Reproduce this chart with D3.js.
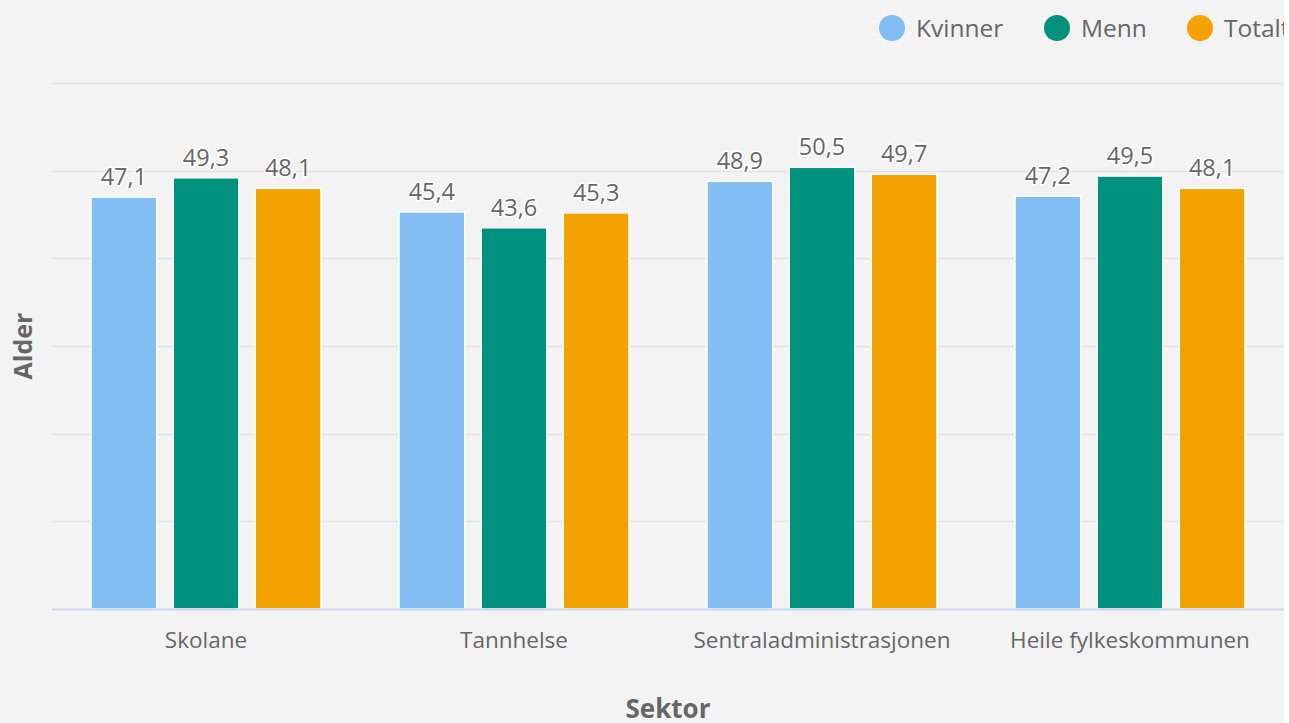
<!DOCTYPE html>
<html>
<head>
<meta charset="utf-8">
<script src="https://cdn.jsdelivr.net/npm/d3@7"></script>
<style>
  html, body { margin: 0; padding: 0; background: #ffffff; }
  #chart { width: 1284px; height: 723px; background: #f3f3f3; overflow: hidden; }
  text { font-family: "Open Sans", Lato, sans-serif; }
</style>
</head>
<body>
<div id="chart"></div>
<script>
// data
var categories = ["Skolane", "Tannhelse", "Sentraladministrasjonen", "Heile fylkeskommunen"];
var seriesNames = ["Kvinner", "Menn", "Totalt"];
var kvinner = [47.1, 45.4, 48.9, 47.2];
var menn = [49.3, 43.6, 50.5, 49.5];
var totalt = [48.1, 45.3, 49.7, 48.1];
var yTicks = [0, 10, 20, 30, 40, 50, 60];
var colors = ["#82bef3", "#00927f", "#f4a201"];

var seriesValues = [kvinner, menn, totalt];

var width = 1284, height = 723;
var margin = {left: 52, right: 0, top: 83, bottom: 114};
var plotW = width - margin.left - margin.right,
    plotH = height - margin.top - margin.bottom;

var svg = d3.select("#chart").append("svg")
  .attr("width", width)
  .attr("height", height);

var g = svg.append("g")
  .attr("transform", "translate(" + margin.left + "," + margin.top + ")");

var x0 = d3.scaleBand().domain(categories).range([0, plotW]).padding(0);
var x1 = d3.scaleBand().domain(seriesNames)
  .range([x0.bandwidth() * 0.1, x0.bandwidth() * 0.9])
  .paddingInner(0.2).paddingOuter(0.1);
var y = d3.scaleLinear().domain([0, 60]).range([plotH, 0]);

// grid
g.selectAll(".grid").data(yTicks.filter(function(t) { return t > 0; }))
  .enter().append("line")
  .attr("x1", 0).attr("x2", plotW)
  .attr("y1", function(t) { return Math.round(y(t)) + 0.5; })
  .attr("y2", function(t) { return Math.round(y(t)) + 0.5; })
  .attr("stroke", "#e3e3e3").attr("stroke-width", 1.5);

// bars
var groups = g.selectAll(".grp").data(categories).enter().append("g")
  .attr("transform", function(c) { return "translate(" + x0(c) + ",0)"; });

function rows(c, i) {
  return seriesNames.map(function(s, j) { return {s: s, v: seriesValues[j][i], j: j}; });
}

groups.selectAll("rect").data(rows)
  .enter().append("rect")
  .attr("x", function(d) { return x1(d.s); })
  .attr("width", x1.bandwidth())
  .attr("y", function(d) { return y(d.v) + 1; })
  .attr("height", function(d) { return plotH - y(d.v) - 1; })
  .attr("fill", function(d) { return colors[d.j]; })
  .attr("stroke", "#ffffff").attr("stroke-width", 1.5);

groups.selectAll(".lbl").data(rows)
  .enter().append("text")
  .attr("x", function(d) { return x1(d.s) + x1.bandwidth() / 2; })
  .attr("y", function(d) { return y(d.v) - 11; })
  .attr("text-anchor", "middle")
  .style("font-size", "23.5px")
  .style("fill", "#666666")
  .style("stroke", "#ffffff").style("stroke-width", 3).style("paint-order", "stroke")
  .style("stroke-linejoin", "round")
  .text(function(d) { return d3.format(".1f")(d.v).replace(".", ","); });

// x axis line
g.append("line")
  .attr("x1", 0).attr("x2", plotW)
  .attr("y1", plotH + 0.5).attr("y2", plotH + 0.5)
  .attr("stroke", "#ccd6eb").attr("stroke-width", 2);

// category labels
g.selectAll(".cat").data(categories).enter().append("text")
  .attr("x", function(c) { return x0(c) + x0.bandwidth() / 2; })
  .attr("y", plotH + 39)
  .attr("text-anchor", "middle")
  .style("font-size", "22.5px")
  .style("fill", "#666666")
  .text(function(c) { return c; });

// axis titles
svg.append("text")
  .attr("x", margin.left + plotW / 2)
  .attr("y", 718)
  .attr("text-anchor", "middle")
  .style("font-size", "26px").style("font-weight", "bold")
  .style("fill", "#666666")
  .text("Sektor");

svg.append("text")
  .attr("transform", "translate(32," + (margin.top + plotH / 2) + ") rotate(-90)")
  .attr("text-anchor", "middle")
  .style("font-size", "25px").style("font-weight", "bold")
  .style("fill", "#666666")
  .text("Alder");

// legend
var legendX = [892, 1057, 1200];
var lg = svg.selectAll(".leg").data(seriesNames).enter().append("g")
  .attr("transform", function(s, i) { return "translate(" + legendX[i] + ",28)"; });
lg.append("circle").attr("r", 13).attr("fill", function(s, i) { return colors[i]; });
lg.append("text")
  .attr("x", 24).attr("y", 9)
  .style("font-size", "24.5px")
  .style("fill", "#666666")
  .text(function(s) { return s; });
</script>
</body>
</html>
